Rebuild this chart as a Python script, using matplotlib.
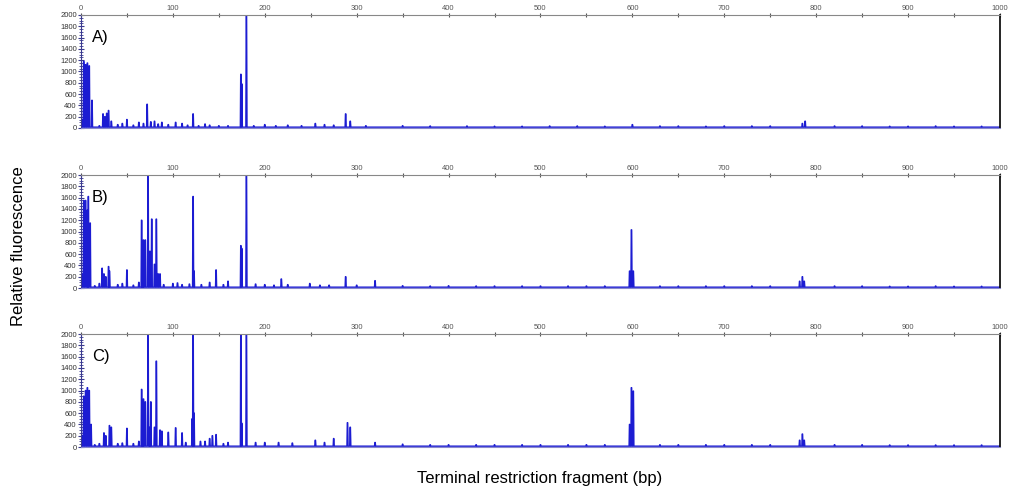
import numpy as np
import matplotlib
matplotlib.use('Agg')
import matplotlib.pyplot as plt
from matplotlib.ticker import MultipleLocator

plt.rcParams['font.family'] = ['Liberation Sans', 'DejaVu Sans']

# T-RFLP peaks: fragment size (bp) and relative fluorescence
a_pos = [1, 3, 5, 7, 9, 12, 20, 24, 26, 28, 30, 33, 40, 45, 50, 57, 63, 68, 72, 76, 80, 84,
         88, 95, 103, 110, 116, 122, 128, 135, 140, 150, 160, 174, 175, 180, 188, 200, 212,
         225, 240, 255, 265, 275, 288, 293, 310, 350, 380, 420, 450, 480, 510, 540, 570, 600,
         630, 650, 680, 700, 730, 750, 785, 788, 820, 850, 880, 900, 930, 950, 980]
a_h = [150, 1180, 1120, 1150, 1100, 490, 40, 250, 200, 260, 310, 120, 60, 80, 150, 50, 100,
       80, 420, 110, 120, 70, 100, 60, 100, 80, 50, 250, 40, 70, 50, 40, 40, 950, 780, 2000,
       40, 60, 40, 50, 40, 80, 60, 50, 250, 120, 40, 40, 35, 35, 30, 30, 35, 35, 30, 60, 35,
       35, 30, 35, 35, 35, 80, 120, 35, 35, 30, 30, 35, 30, 30]

b_pos = [1, 3, 5, 7, 8, 10, 15, 20, 23, 25, 27, 30, 31, 40, 45, 50, 57, 63, 66, 67, 68, 70,
         73, 75, 77, 80, 82, 84, 86, 90, 100, 105, 110, 118, 122, 123, 131, 140, 147, 155,
         160, 174, 175, 180, 190, 200, 210, 218, 225, 249, 260, 270, 288, 300, 320, 350,
         380, 400, 430, 450, 480, 500, 530, 550, 570, 597, 599, 601, 630, 650, 680, 700,
         730, 750, 782, 785, 787, 820, 850, 880, 900, 930, 950, 980]
b_h = [250, 1550, 1550, 1380, 1620, 1150, 40, 80, 350, 250, 200, 380, 300, 60, 80, 320, 50,
       100, 1200, 330, 850, 850, 2000, 650, 1220, 420, 1220, 250, 250, 60, 80, 90, 60, 70,
       1620, 300, 60, 100, 320, 60, 120, 750, 700, 2000, 70, 60, 50, 160, 60, 80, 50, 50, 200,
       50, 130, 40, 35, 40, 35, 35, 35, 35, 35, 35, 35, 300, 1030, 300, 35, 35, 35, 35, 35,
       35, 120, 200, 120, 35, 35, 30, 30, 35, 30, 30]

c_pos = [1, 3, 5, 7, 9, 11, 15, 20, 25, 27, 31, 33, 40, 45, 50, 57, 63, 66, 67, 68, 70, 73,
         75, 76, 80, 82, 86, 88, 95, 103, 110, 114, 121, 122, 123, 130, 135, 140, 143, 147,
         155, 160, 174, 175, 180, 190, 200, 215, 230, 255, 265, 275, 290, 293, 320, 350,
         380, 400, 430, 450, 480, 500, 530, 550, 570, 597, 599, 601, 630, 650, 680, 700,
         730, 750, 782, 785, 787, 820, 850, 880, 900, 930, 950, 980]
c_h = [200, 900, 1000, 1050, 1000, 400, 40, 60, 250, 200, 380, 350, 60, 70, 330, 60, 100,
       1020, 430, 850, 800, 2000, 350, 800, 350, 1520, 300, 280, 260, 340, 250, 80, 500, 2000,
       600, 100, 100, 150, 200, 220, 60, 80, 2000, 420, 2000, 80, 80, 80, 70, 120, 80, 150,
       430, 350, 80, 50, 40, 40, 40, 40, 40, 40, 40, 40, 40, 400, 1050, 990, 40, 40, 40, 40,
       40, 40, 120, 230, 120, 40, 40, 35, 35, 35, 35, 35]

panels = [('A)', a_pos, a_h), ('B)', b_pos, b_h), ('C)', c_pos, c_h)]
baseline = 15
trace_color = '#1c1cd2'

fig = plt.figure(figsize=(10.11, 4.93), dpi=100)
tops = [0.9696, 0.645, 0.3225]
height = 0.2292

for (label, pos, h), top in zip(panels, tops):
    ax = fig.add_axes([0.0801, top - height, 0.909, height])
    # build spike trace from peak list
    xs, ys = [0], [baseline]
    for p, v in sorted(zip(pos, h)):
        xs += [p - 0.6, p - 0.2, p + 0.2, p + 0.6]
        ys += [baseline, v, v, baseline]
    xs.append(1000)
    ys.append(baseline)
    ax.fill_between(xs, 0, ys, color='#b8b8f0', lw=0)
    ax.plot(xs, ys, color=trace_color, lw=1.0)

    ax.set_xlim(0, 1000)
    ax.set_ylim(0, 2000)
    ax.xaxis.tick_top()
    ax.xaxis.set_major_locator(MultipleLocator(100))
    ax.xaxis.set_minor_locator(MultipleLocator(50))
    ax.yaxis.set_major_locator(MultipleLocator(200))
    ax.yaxis.set_minor_locator(MultipleLocator(50))
    ax.tick_params(axis='x', which='both', direction='inout', length=3, width=0.8,
                   colors='#555555', labelsize=5.5, pad=1)
    ax.tick_params(axis='y', which='major', direction='inout', length=4, width=0.8,
                   colors='#3a3a90', labelsize=5.5, pad=1, labelcolor='#333333')
    ax.tick_params(axis='y', which='minor', direction='inout', length=2.5, width=0.6,
                   colors='#3a3a90')
    ax.spines['top'].set_color('#888888')
    ax.spines['right'].set_color('black')
    ax.spines['right'].set_linewidth(1.2)
    ax.spines['left'].set_color('#3a3a90')
    ax.spines['bottom'].set_color('#8888cc')
    ax.text(0.012, 0.8, label, transform=ax.transAxes, fontsize=12, va='center', ha='left')

fig.text(0.018, 0.5, 'Relative fluorescence', rotation=90, fontsize=12,
         ha='center', va='center')
fig.text(0.534, 0.03, 'Terminal restriction fragment (bp)', fontsize=12,
         ha='center', va='center')

fig.savefig('out.png', dpi=100)
